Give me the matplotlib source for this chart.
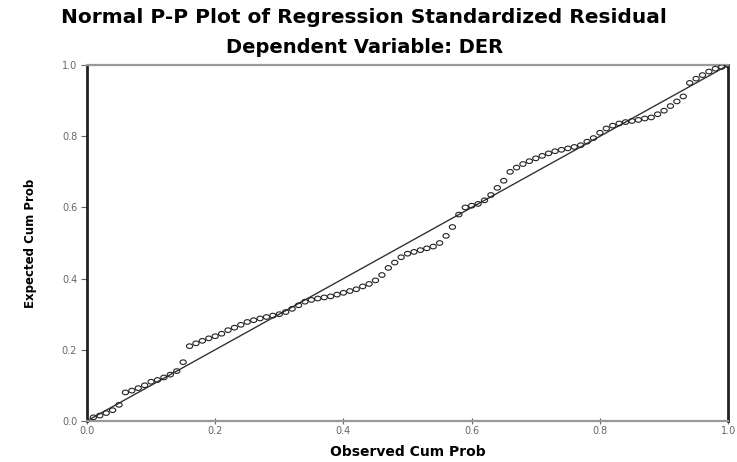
import numpy as np
import matplotlib
matplotlib.use("Agg")
import matplotlib.pyplot as plt
from matplotlib.path import Path

# observed / expected cumulative probabilities
observed = [0.01, 0.02, 0.03, 0.04, 0.05, 0.06, 0.07, 0.08, 0.09, 0.10,
            0.11, 0.12, 0.13, 0.14, 0.15, 0.16, 0.17, 0.18, 0.19, 0.20,
            0.21, 0.22, 0.23, 0.24, 0.25, 0.26, 0.27, 0.28, 0.29, 0.30,
            0.31, 0.32, 0.33, 0.34, 0.35, 0.36, 0.37, 0.38, 0.39, 0.40,
            0.41, 0.42, 0.43, 0.44, 0.45, 0.46, 0.47, 0.48, 0.49, 0.50,
            0.51, 0.52, 0.53, 0.54, 0.55, 0.56, 0.57, 0.58, 0.59, 0.60,
            0.61, 0.62, 0.63, 0.64, 0.65, 0.66, 0.67, 0.68, 0.69, 0.70,
            0.71, 0.72, 0.73, 0.74, 0.75, 0.76, 0.77, 0.78, 0.79, 0.80,
            0.81, 0.82, 0.83, 0.84, 0.85, 0.86, 0.87, 0.88, 0.89, 0.90,
            0.91, 0.92, 0.93, 0.94, 0.95, 0.96, 0.97, 0.98, 0.99, 1.00]
expected = [0.010, 0.015, 0.022, 0.030, 0.045, 0.080, 0.085, 0.092, 0.100, 0.110,
            0.115, 0.122, 0.130, 0.140, 0.165, 0.210, 0.218, 0.225, 0.232, 0.238,
            0.245, 0.255, 0.262, 0.270, 0.278, 0.283, 0.288, 0.292, 0.296, 0.300,
            0.306, 0.315, 0.325, 0.335, 0.340, 0.344, 0.347, 0.350, 0.355, 0.360,
            0.365, 0.370, 0.378, 0.385, 0.395, 0.410, 0.430, 0.445, 0.460, 0.470,
            0.475, 0.480, 0.485, 0.490, 0.500, 0.520, 0.545, 0.580, 0.600, 0.605,
            0.610, 0.620, 0.635, 0.655, 0.675, 0.700, 0.712, 0.722, 0.730, 0.738,
            0.745, 0.752, 0.758, 0.762, 0.766, 0.770, 0.775, 0.785, 0.795, 0.810,
            0.822, 0.830, 0.836, 0.840, 0.843, 0.846, 0.850, 0.853, 0.862, 0.872,
            0.885, 0.898, 0.912, 0.950, 0.962, 0.972, 0.982, 0.990, 0.995, 1.000]
ref_line = [0.0, 1.0]
ticks = [0.0, 0.2, 0.4, 0.6, 0.8, 1.0]
tick_labels = ["0.0", "0.2", "0.4", "0.6", "0.8", "1.0"]

# slightly flattened circle, like the SPSS markers
circ = Path.unit_circle()
oval = Path(circ.vertices * np.array([1.35, 1.0]), circ.codes)

fig = plt.figure(figsize=(7.37, 4.62), dpi=100)
ax = fig.add_axes([0.118, 0.089, 0.870, 0.770])

ax.plot(ref_line, ref_line, color="#333333", lw=1.0, zorder=2)
ax.scatter(observed, expected, marker=oval, s=20, facecolors="none",
           edgecolors="#222222", linewidths=0.8, zorder=3)

ax.set_xlim(0, 1)
ax.set_ylim(0, 1)
ax.set_xticks(ticks)
ax.set_xticklabels(tick_labels)
ax.set_yticks(ticks)
ax.set_yticklabels(tick_labels)
ax.tick_params(axis="both", labelsize=7, colors="#666666", length=4, width=0.8)
ax.tick_params(axis="x", direction="inout", pad=2)
ax.tick_params(axis="y", direction="out", pad=3)

for side in ("left", "right"):
    ax.spines[side].set_color("#222222")
    ax.spines[side].set_linewidth(2.0)
for side in ("top", "bottom"):
    ax.spines[side].set_color("#999999")
    ax.spines[side].set_linewidth(1.6)

ax.set_xlabel("Observed Cum Prob", fontsize=10, fontweight="bold", labelpad=6)
ax.set_ylabel("Expected Cum Prob", fontsize=8.5, fontweight="bold", labelpad=18)

fig.text(0.494, 0.962, "Normal P-P Plot of Regression Standardized Residual",
         ha="center", va="center", fontsize=14.5, fontweight="bold")
fig.text(0.494, 0.898, "Dependent Variable: DER",
         ha="center", va="center", fontsize=14, fontweight="bold")

fig.savefig("out.png", dpi=100)
